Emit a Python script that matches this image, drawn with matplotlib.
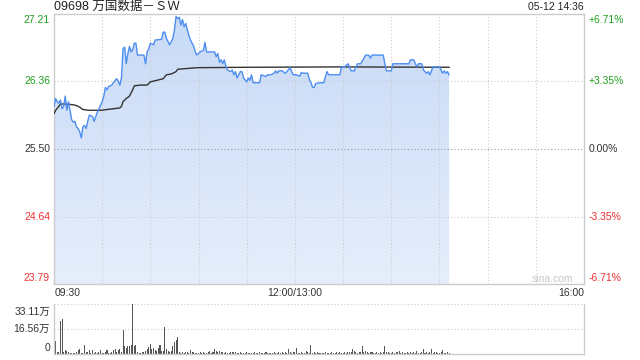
import numpy as np
import matplotlib
matplotlib.use('Agg')
import matplotlib.pyplot as plt
from matplotlib.colors import LinearSegmentedColormap

plt.rcParams['font.family'] = ['Liberation Sans', 'Noto Sans CJK SC', 'DejaVu Sans']

# ---------------- data ----------------
title = "09698 万国数据－ＳＷ"
stamp = "05-12 14:36"
pre_close = 25.50
price_ticks = [27.21, 26.36, 25.50, 24.64, 23.79]
pct_labels = ["+6.71%", "+3.35%", "0.00%", "-3.35%", "-6.71%"]
time_labels = ["09:30", "12:00/13:00", "16:00"]
time_label_pos = ["09:30", "12:00", "16:00"]
vol_ticks = [33.11, 16.56, 0]
vol_tick_labels = ["33.11万", "16.56万", "0"]

price_times = [
    "09:30", "09:31", "09:32", "09:33", "09:34", "09:35", "09:36", "09:37", "09:38", "09:39",
    "09:40", "09:41", "09:42", "09:43", "09:44", "09:45", "09:46", "09:47", "09:48", "09:49",
    "09:50", "09:51", "09:52", "09:53", "09:54", "09:55", "09:56", "09:57", "09:58", "10:00",
    "10:01", "10:02", "10:03", "10:04", "10:06", "10:07", "10:09", "10:10", "10:11", "10:12",
    "10:13", "10:14", "10:15", "10:16", "10:17", "10:18", "10:19", "10:20", "10:21", "10:22",
    "10:26", "10:27", "10:28", "10:29", "10:30", "10:32", "10:33", "10:37", "10:38", "10:39",
    "10:40", "10:41", "10:42", "10:43", "10:44", "10:45", "10:46", "10:47", "10:48", "10:49",
    "10:50", "10:51", "10:52", "10:53", "10:54", "10:55", "10:56", "10:57", "10:58", "10:59",
    "11:00", "11:01", "11:03", "11:04", "11:05", "11:10", "11:11", "11:12", "11:13", "11:14",
    "11:15", "11:16", "11:17", "11:18", "11:20", "11:21", "11:22", "11:23", "11:24", "11:26",
    "11:27", "11:28", "11:30", "11:31", "11:32", "11:33", "11:34", "11:38", "11:39", "11:42",
    "11:43", "11:45", "11:47", "11:48", "11:49", "11:50", "11:52", "11:54", "11:55", "11:57",
    "11:58", "11:59", "13:01", "13:03", "13:04", "13:05", "13:08", "13:09", "13:10", "13:11",
    "13:12", "13:13", "13:16", "13:18", "13:19", "13:20", "13:21", "13:28", "13:29", "13:31",
    "13:33", "13:34", "13:35", "13:37", "13:38", "13:39", "13:41", "13:43", "13:44", "13:46",
    "13:47", "13:48", "13:55", "13:56", "13:57", "14:00", "14:01", "14:11", "14:12", "14:14",
    "14:15", "14:16", "14:17", "14:19", "14:20", "14:22", "14:23", "14:24", "14:25", "14:26",
    "14:30", "14:32", "14:33", "14:34", "14:35", "14:36",
]
price_values = [
    26.04, 26.14, 26.10, 26.08, 26.12, 26.01, 26.04, 26.17, 25.99, 26.10,
    25.99, 25.87, 25.84, 25.85, 25.78, 25.76, 25.72, 25.64, 25.78, 25.80,
    25.76, 25.85, 25.93, 25.92, 25.91, 25.85, 25.91, 25.97, 26.01, 26.10,
    26.17, 26.28, 26.25, 26.29, 26.31, 26.34, 26.39, 26.36, 26.31, 26.40,
    26.77, 26.79, 26.58, 26.71, 26.80, 26.73, 26.76, 26.84, 26.84, 26.69,
    26.69, 26.58, 26.73, 26.77, 26.84, 26.82, 26.88, 26.89, 26.98, 26.98,
    26.90, 26.86, 26.82, 26.86, 26.90, 27.01, 27.18, 27.15, 27.17, 27.07,
    27.14, 27.05, 27.09, 27.01, 26.94, 26.88, 26.84, 26.80, 26.73, 26.69,
    26.71, 26.73, 26.75, 26.85, 26.73, 26.73, 26.67, 26.71, 26.60, 26.63,
    26.58, 26.63, 26.55, 26.50, 26.48, 26.50, 26.44, 26.48, 26.40, 26.48,
    26.48, 26.40, 26.35, 26.40, 26.37, 26.44, 26.34, 26.34, 26.44, 26.42,
    26.44, 26.44, 26.46, 26.49, 26.46, 26.49, 26.49, 26.46, 26.48, 26.53,
    26.48, 26.44, 26.44, 26.42, 26.47, 26.46, 26.46, 26.38, 26.34, 26.28,
    26.28, 26.33, 26.34, 26.34, 26.42, 26.48, 26.44, 26.44, 26.54, 26.54,
    26.58, 26.54, 26.49, 26.49, 26.54, 26.58, 26.58, 26.65, 26.69, 26.69,
    26.65, 26.69, 26.69, 26.58, 26.49, 26.49, 26.58, 26.58, 26.63, 26.63,
    26.58, 26.54, 26.58, 26.58, 26.50, 26.46, 26.48, 26.44, 26.49, 26.54,
    26.54, 26.46, 26.49, 26.46, 26.48, 26.44,
]

avg_times = [
    "09:30", "09:31", "09:33", "09:34", "09:37", "09:42", "09:44", "09:46", "09:48", "09:52",
    "09:59", "10:03", "10:07", "10:11", "10:12", "10:13", "10:15", "10:17", "10:19", "10:20",
    "10:24", "10:28", "10:30", "10:32", "10:36", "10:38", "10:40", "10:43", "10:46", "10:47",
    "10:53", "10:59", "11:30", "13:30", "14:36",
]
avg_values = [
    25.95, 25.99, 26.04, 26.07, 26.07, 26.06, 26.05, 26.03, 26.00, 25.99,
    25.99, 26.00, 26.01, 26.02, 26.04, 26.10, 26.14, 26.17, 26.25, 26.30,
    26.31, 26.31, 26.35, 26.36, 26.38, 26.39, 26.44, 26.45, 26.48, 26.51,
    26.52, 26.53, 26.535, 26.54, 26.535,
]

# volume per minute, in 万 shares
vol_am_start = "09:30"
vol_am = [
    9.3, 8.8, 1.2, 1.5, 21.8, 23.2, 1.5, 3.0, 2.0, 1.2,
    0.8, 0.8, 0.6, 0.8, 1.2, 2.6, 3.7, 0.8, 1.0, 6.0,
    1.2, 1.5, 3.0, 1.0, 3.0, 0.8, 1.5, 1.0, 1.2, 2.6,
    0.8, 1.0, 1.2, 3.0, 1.0, 0.6, 1.5, 2.6, 3.7, 1.5,
    2.6, 3.5, 1.5, 15.9, 5.3, 4.4, 5.3, 5.3, 6.0, 33.11,
    5.3, 6.0, 1.5, 0.8, 0.6, 1.2, 1.5, 2.0, 3.7, 4.9,
    6.6, 3.5, 4.0, 3.0, 2.0, 4.4, 6.0, 2.0, 2.4, 18.1,
    3.5, 2.4, 1.8, 2.4, 5.3, 8.2, 9.7, 11.5, 1.5, 0.8,
    1.5, 1.0, 1.8, 1.2, 0.8, 3.0, 1.8, 1.8, 1.0, 0.6,
    0.9, 1.5, 1.0, 1.8, 0.9, 1.0, 1.5, 2.4, 1.0, 1.8,
    3.7, 2.4, 1.8, 2.4, 1.5, 1.8, 1.0, 1.5, 1.0, 0.8,
    1.5, 1.8, 1.2, 1.5, 1.0, 0.8, 1.2, 0.6, 1.0, 0.8,
    1.2, 0.9, 0.6, 1.0, 0.8, 1.2, 0.6, 0.9, 1.2, 0.8,
    1.0, 0.6, 1.2, 0.8, 1.0, 0.9, 0.6, 1.2, 0.8, 1.0,
    1.5, 0.8, 1.2, 0.9, 1.5, 1.0, 3.7, 1.2, 0.8, 1.5,
]
vol_pm_start = "13:00"
vol_pm = [
    1.2, 4.0, 1.0, 0.8, 1.2, 0.9, 1.0, 2.0, 1.2, 0.8,
    6.2, 1.0, 1.5, 0.8, 1.2, 0.6, 0.9, 1.0, 0.8, 1.2,
    0.6, 1.0, 0.9, 1.2, 0.8, 1.0, 1.5, 0.8, 1.2, 1.0,
    0.8, 1.5, 1.0, 1.8, 1.2, 1.5, 3.3, 2.0, 1.2, 1.0,
    1.5, 1.2, 5.5, 1.5, 2.0, 1.2, 1.0, 1.5, 1.2, 0.9,
    1.0, 1.5, 0.8, 1.2, 1.0, 1.5, 5.5, 1.2, 1.5, 1.0,
    0.8, 1.2, 1.0, 1.5, 1.2, 2.4, 1.0, 1.2, 0.8, 1.0,
    1.2, 0.9, 1.5, 1.0, 1.2, 0.8, 2.4, 1.0, 0.8, 1.2,
    3.3, 1.0, 1.5, 0.8, 1.2, 3.8, 1.0, 1.5, 1.2, 0.8,
    1.0, 1.5, 2.9, 1.0, 0.8, 1.2, 1.0,
]


def tidx(t):
    """Trading-minute index on a time axis with the lunch break removed."""
    h, m = map(int, t.split(":"))
    mins = h * 60 + m
    if mins >= 13 * 60:
        return 150 + (mins - 13 * 60)
    return mins - (9 * 60 + 30)


GREEN = '#1e9e1e'
RED = '#f03030'
DARK = '#333333'
GRID = '#cccccc'
label_colors = [GREEN, GREEN, DARK, RED, RED]

W, H = 640, 360
fig = plt.figure(figsize=(6.4, 3.6), dpi=100)
ax = fig.add_axes([54 / W, 1 - 284 / H, 530 / W, 270 / H])
vax = fig.add_axes([54 / W, 1 - 354.3 / H, 530 / W, 50.3 / H])

x_end = tidx("16:00") + 0  # 330
ymin, ymax = price_ticks[-1], price_ticks[0]

px = np.array([tidx(t) for t in price_times], dtype=float)
py = np.array(price_values)
axx = np.array([tidx(t) for t in avg_times], dtype=float)
ayy = np.array(avg_values)

# gradient fill under the price line
poly = ax.fill_between(px, py, ymin, color='none', lw=0)
grad = np.linspace(0, 1, 256).reshape(-1, 1)
cmap = LinearSegmentedColormap.from_list('g', ['#e6eefb', '#c8daf7'])
im = ax.imshow(grad, extent=[0, x_end, ymin, ymax], aspect='auto', cmap=cmap,
               origin='lower', zorder=1, interpolation='bilinear')
im.set_clip_path(poly.get_paths()[0], transform=ax.transData)

# grid
for t in range(30, x_end, 30):
    ax.axvline(t, color=GRID, lw=0.8, ls=(0, (1, 2)), zorder=2)
for p in price_ticks[1:-1]:
    c = '#999999' if p == pre_close else GRID
    ax.axhline(p, color=c, lw=0.8, ls=(0, (1, 2)), zorder=2)

ax.plot(axx, ayy, color='#333333', lw=1.0, zorder=3)
ax.plot(px, py, color='#4d8ef0', lw=1.0, zorder=4)

ax.set_xlim(0, x_end)
ax.set_ylim(ymin, ymax)
ax.set_xticks([])
ax.set_yticks([])
for s in ax.spines.values():
    s.set_color(GRID)
    s.set_linewidth(1)

fs = 7.5
n = len(price_ticks)
for i, (p, pl, c) in enumerate(zip(price_ticks, pct_labels, label_colors)):
    dy = -6 if i == 0 else (6 if i == n - 1 else 0)
    ax.annotate(f"{p:.2f}", xy=(0, p), xycoords=('axes fraction', 'data'),
                xytext=(-4, dy), textcoords='offset pixels', ha='right', va='center',
                fontsize=fs, color=c)
    ax.annotate(pl, xy=(1, p), xycoords=('axes fraction', 'data'),
                xytext=(5, dy), textcoords='offset pixels', ha='left', va='center',
                fontsize=fs, color=c)

has = ['left', 'center', 'right']
for lab, pos, ha in zip(time_labels, time_label_pos, has):
    ax.annotate(lab, xy=(tidx(pos), 0), xycoords=('data', 'axes fraction'),
                xytext=(1 if ha == 'left' else 0, -9.5), textcoords='offset pixels',
                ha=ha, va='center', fontsize=fs, color=DARK)

ax.annotate(title, xy=(0, 1), xycoords='axes fraction', xytext=(0, 7),
            textcoords='offset pixels', ha='left', va='center', fontsize=9, color='#222222')
ax.annotate(stamp, xy=(1, 1), xycoords='axes fraction', xytext=(0, 7),
            textcoords='offset pixels', ha='right', va='center', fontsize=fs, color='#222222')
ax.annotate("sina.com", xy=(1, 0), xycoords='axes fraction', xytext=(-11, 5),
            textcoords='offset pixels', ha='right', va='center', fontsize=fs, color='#c8c8c8')

# volume panel
am0 = tidx(vol_am_start)
pm0 = tidx(vol_pm_start)
vx = np.concatenate([am0 + np.arange(len(vol_am)), pm0 + np.arange(len(vol_pm))])
vy = np.array(vol_am + vol_pm)
vax.bar(vx, vy, width=0.65, color='#555555', linewidth=0, zorder=2)
vax.set_xlim(0, x_end)
vax.set_ylim(0, vol_ticks[0])
vax.axhline(vol_ticks[1], color=GRID, lw=0.8, ls=(0, (1, 2)), zorder=1)
vax.axhline(vol_ticks[0], color=GRID, lw=0.8, ls=(0, (1, 2)), zorder=1, clip_on=False)
vax.set_xticks([])
vax.set_yticks([])
vax.spines['top'].set_visible(False)
for k in ['left', 'right', 'bottom']:
    vax.spines[k].set_color(GRID)
    vax.spines[k].set_linewidth(1)
for i, (v, lab) in enumerate(zip(vol_ticks, vol_tick_labels)):
    dy = -8 if i == 0 else (6 if i == len(vol_ticks) - 1 else 0)
    vax.annotate(lab, xy=(0, v), xycoords=('axes fraction', 'data'),
                 xytext=(-4, dy), textcoords='offset pixels', ha='right', va='center',
                 fontsize=fs, color=DARK)

fig.savefig('out.png', dpi=100)
